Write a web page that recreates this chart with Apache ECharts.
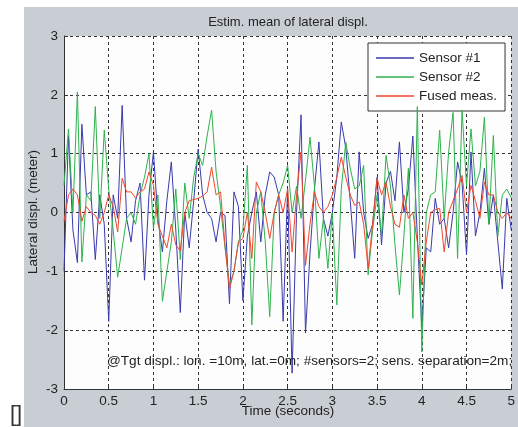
<!DOCTYPE html>
<html>
<head>
<meta charset="utf-8">
<script src="https://cdn.jsdelivr.net/npm/echarts@6/dist/echarts.min.js"></script>
<style>
  html, body { margin: 0; padding: 0; background: #fff; }
  #chart { width: 518px; height: 427px; }
</style>
</head>
<body>
<div id="chart"></div>
<script>
// time axis, step 0.05 s
const times = [];
for (let i = 0; i <= 100; i++) times.push(+(i * 0.05).toFixed(2));

const sensor1 = [
  -1.0, 1.3, -0.3, -0.85, 1.5, 0.3, 0.35, -0.8, 0.3, -0.2,
  -1.85, 0.3, -0.1, 1.82, -0.1, -0.5, 0.2, 0.5, -1.15, 0.3,
  1.03, -0.1, -0.67, 0.2, 0.86, -0.3, -1.7, 0.0, -0.6, 0.2,
  1.08, 0.3, 0.0, -0.1, -0.5, 0.0, -0.05, -1.55, 0.35, 0.1,
  -1.5, -0.4, 0.0, 0.35, -0.5, 0.3, 0.69, 0.6, 0.3, -1.85,
  0.4, -2.73, 0.0, 1.66, -2.05, -0.7, 0.4, 1.2, -0.1, -0.4,
  0.0, 0.6, 1.54, 1.1, 0.2, -0.78, 1.03, 0.0, -0.44, -0.2,
  0.6, -0.55, 0.5, 0.7, 0.2, 1.2, 0.0, 0.4, 1.3, -0.4,
  -1.94, -0.6, -0.67, 0.24, -0.2, -0.1, -0.6, 0.0, 0.86, 0.5,
  -0.72, 1.03, -0.4, 0.0, 0.75, -0.2, 0.3, -0.5, -1.3, 0.24,
  -0.3
];

const sensor2 = [
  0.46, 1.42, 0.0, 2.05, -0.84, 0.3, 0.2, 1.8, -0.1, 1.4,
  0.4, -0.3, -1.1, -0.6, -0.1, 0.0, -0.2, 0.3, 0.6, 1.0,
  -0.27, 0.3, -1.51, -1.0, -0.5, 0.4, -0.8, 0.5, -0.1, 0.6,
  1.0, 0.8, 1.3, 1.74, 0.7, 0.1, -0.6, -1.23, -1.0, -0.5,
  -0.3, 0.8, -1.91, 0.0, 0.35, -0.5, -1.77, 0.0, 0.3, 0.5,
  0.8, 0.0, 0.45, -0.1, 0.55, 1.28, 0.45, -0.78, -0.1, -0.95,
  0.0, -1.57, 0.4, 1.2, 0.75, 0.4, 0.45, 0.8, -1.06, -0.3,
  0.3, -0.4, 0.97, 0.45, -0.55, -1.4, -0.4, 0.75, -1.8, 1.8,
  -2.37, 0.0, 0.3, 0.35, 1.4, -0.1, 1.03, 1.7, -0.78, 1.74,
  0.45, 1.42, 0.45, 0.7, 1.62, -0.2, 1.31, -0.4, 0.3, 0.4,
  0.25
];

const fused = [
  -0.15, 0.3, 0.4, 0.3, -0.15, 0.1, 0.0, -0.05, -0.2, 0.0,
  0.3, 0.1, -0.33, 0.58, 0.35, 0.35, 0.25, 0.35, 0.4, 0.69,
  0.46, -0.2, -0.4, -0.6, -0.2, -0.55, -0.65, 0.0, 0.2, 0.22,
  0.24, 0.28, 0.35, 0.77, 0.3, 0.35, -0.55, -1.3, -1.0, -0.5,
  -0.44, 0.0, -0.78, 0.52, 0.35, 0.0, -0.44, 0.0, 0.3, 0.0,
  0.4, -0.67, 0.3, 1.03, -0.9, -0.2, 0.35, 0.1, 0.0, 0.1,
  0.3, 0.6, 0.94, 0.6, 0.3, 0.12, 0.18, -0.2, -0.95, -0.2,
  0.58, 0.3, 0.52, 0.1, -0.2, -0.25, 0.3, -0.1, 0.0, -0.5,
  -1.23, -0.5, 0.0, 0.05, 0.07, -0.67, 0.0, 0.2, 0.4, 0.63,
  0.0, 0.46, 0.2, -0.1, 0.52, 0.3, 0.3, 0.0, -0.1, 0.0,
  -0.1
];

const seriesNames = ["Sensor #1", "Sensor #2", "Fused meas."];
const seriesColors = ["#3a3aae", "#2fb34f", "#f0482c"];

const textColor = "#222";
const fontFamily = "'Liberation Sans', Arial, sans-serif";

const myChart = echarts.init(document.getElementById("chart"));

const toPairs = (vals) => vals.map((v, i) => [times[i], v]);

const options = {
  animation: false,
  backgroundColor: "#fff",
  textStyle: { fontFamily: fontFamily },
  graphic: [
    // gray figure background
    {
      type: "rect",
      z: -10,
      silent: true,
      shape: { x: 24, y: 7, width: 494, height: 420 },
      style: { fill: "#c9cdd4" },
    },
    {
      type: "text",
      x: 288,
      y: 22,
      style: {
        text: "Estim. mean of lateral displ.",
        fill: textColor,
        font: "13px " + fontFamily,
        textAlign: "center",
        textVerticalAlign: "middle",
      },
    },
    {
      type: "text",
      x: 288,
      y: 411,
      style: {
        text: "Time (seconds)",
        fill: textColor,
        font: "13.5px " + fontFamily,
        textAlign: "center",
        textVerticalAlign: "middle",
      },
    },
    {
      type: "text",
      x: 33,
      y: 212,
      rotation: Math.PI / 2,
      style: {
        text: "Lateral displ. (meter)",
        fill: textColor,
        font: "13.5px " + fontFamily,
        textAlign: "center",
        textVerticalAlign: "middle",
      },
    },
    {
      type: "text",
      x: 107,
      y: 361,
      z: 100,
      style: {
        text: "@Tgt displ.: lon. =10m, lat.=0m; #sensors=2; sens. separation=2m;",
        fill: textColor,
        font: "13.6px " + fontFamily,
        textAlign: "left",
        textVerticalAlign: "middle",
      },
    },
    {
      type: "text",
      x: 16,
      y: 415,
      style: {
        text: "[]",
        fill: "#333",
        font: "22px " + fontFamily,
        textAlign: "center",
        textVerticalAlign: "middle",
      },
    },
  ],
  legend: {
    orient: "vertical",
    left: 368,
    top: 43,
    data: seriesNames,
    icon: "rect",
    backgroundColor: "#fff",
    borderColor: "#333",
    borderWidth: 1,
    borderRadius: 0,
    padding: [8, 8, 8, 8],
    itemWidth: 38,
    itemHeight: 1.5,
    itemGap: 5,
    textStyle: { fontSize: 13.5, color: textColor, fontFamily: fontFamily },
  },
  grid: {
    left: 64,
    right: 6,
    top: 36,
    bottom: 38,
    show: true,
    backgroundColor: "#fdfdfd",
    borderWidth: 0,
  },
  xAxis: {
    type: "value",
    min: 0,
    max: 5,
    interval: 0.5,
    axisLine: { show: true, onZero: false, lineStyle: { color: "#333", width: 1 } },
    axisTick: { show: true, inside: true, length: 4, lineStyle: { color: "#333" } },
    axisLabel: { color: textColor, fontSize: 13.5, margin: 5, fontFamily: fontFamily },
    splitLine: {
      show: true,
      lineStyle: { color: "#333", type: [3, 3], width: 1 },
    },
  },
  yAxis: {
    type: "value",
    min: -3,
    max: 3,
    interval: 1,
    axisLine: { show: true, onZero: false, lineStyle: { color: "#333", width: 1 } },
    axisTick: { show: true, inside: true, length: 4, lineStyle: { color: "#333" } },
    axisLabel: { color: textColor, fontSize: 13.5, margin: 6, fontFamily: fontFamily },
    splitLine: {
      show: true,
      lineStyle: { color: "#333", type: [3, 3], width: 1 },
    },
  },
  series: [sensor1, sensor2, fused].map((vals, i) => ({
    name: seriesNames[i],
    type: "line",
    data: toPairs(vals),
    symbol: "none",
    showSymbol: false,
    color: seriesColors[i],
    lineStyle: { width: 1, color: seriesColors[i] },
    z: 3 + i,
  })),
};

myChart.setOption(options);
</script>
</body>
</html>
